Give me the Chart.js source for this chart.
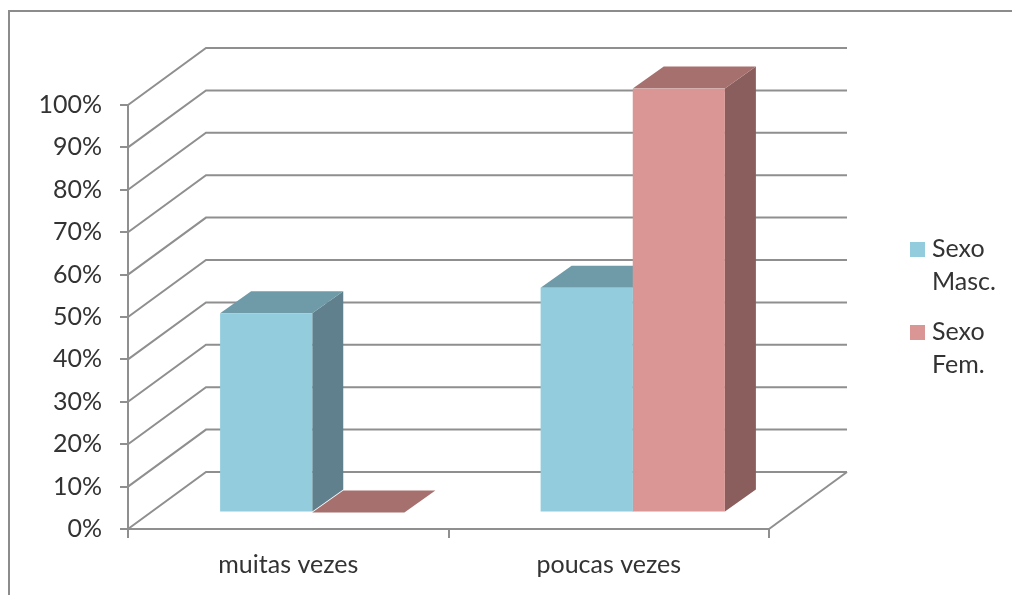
<!DOCTYPE html>
<html>
<head>
<meta charset="utf-8">
<script src="https://cdn.jsdelivr.net/npm/chart.js@4"></script>
<style>
  html, body { margin: 0; padding: 0; background: #fff; overflow: hidden; }
  #wrap { width: 1012px; height: 595px; }
</style>
</head>
<body>
<div id="wrap"><canvas id="chart"></canvas></div>
<script>
// DATA
const categories = ["muitas vezes", "poucas vezes"];
const sexoMasc = [47, 53];
const sexoFem = [0, 100];
const seriesNames = [["Sexo", "Masc."], ["Sexo", "Fem."]];
const yTickLabels = ["0%", "10%", "20%", "30%", "40%", "50%", "60%", "70%", "80%", "90%", "100%"];

// 3D LOOK
const wallDx = 78, wallDy = -57;   // back wall offset from the axes
const shiftX = 24, shiftY = -16.5; // bars stand inside the floor
const barDx = 31, barDy = -22;     // depth of a bar
const lineColor = "#8f8f8f";
const textColor = "#333333";
const fills = [
  { front: "#93cddd", top: "#6f9ba8", side: "#5f808c" },
  { front: "#d99694", top: "#a5706e", side: "#8a5e5c" },
];

function poly(c, pts, color) {
  c.fillStyle = color;
  c.beginPath();
  pts.forEach((p, i) => (i ? c.lineTo(p[0], p[1]) : c.moveTo(p[0], p[1])));
  c.closePath();
  c.fill();
}

// legend swatch, a plain 15px square
function swatch(color) {
  const s = document.createElement("canvas");
  s.width = 15;
  s.height = 15;
  const c = s.getContext("2d");
  c.fillStyle = color;
  c.fillRect(0, 0, 15, 15);
  return s;
}

const box3d = {
  id: "box3d",
  afterLayout(chart) {
    // legend sits to the right of the back wall
    const l = chart.legend;
    l.left = 898.5; l.right = 1012; l.top = 219.5; l.bottom = 400;
  },
  beforeDraw(chart) {
    const c = chart.ctx;
    c.save();
    c.strokeStyle = "#8c8c8c";
    c.lineWidth = 2;
    c.strokeRect(9, 11, 1200, 800);
    c.restore();
  },
  beforeDatasetsDraw(chart) {
    const c = chart.ctx, y = chart.scales.y;
    const a = chart.chartArea;
    c.save();
    c.strokeStyle = lineColor;
    c.lineWidth = 2;
    y.ticks.forEach((t) => {
      const py = y.getPixelForValue(t.value);
      c.beginPath();
      c.moveTo(a.left, py);
      c.lineTo(a.left + wallDx, py + wallDy);
      c.lineTo(a.right + wallDx, py + wallDy);
      c.stroke();
    });
    // floor right edge
    c.beginPath();
    c.moveTo(a.right, a.bottom);
    c.lineTo(a.right + wallDx, a.bottom + wallDy);
    c.stroke();
    c.restore();

    c.save();
    c.translate(shiftX, shiftY);
    [0, 1].forEach((i) => {
      chart.getDatasetMeta(i).data.forEach((bar) => {
        const { x, y: top, base, width } = bar.getProps(["x", "y", "base", "width"]);
        const l = x - width / 2, r = x + width / 2;
        if (base - top > 0.5) {
          poly(c, [[r, top], [r + barDx, top + barDy], [r + barDx, base + barDy], [r, base]], fills[i].side);
        }
        poly(c, [[l, top], [r, top], [r + barDx, top + barDy], [l + barDx, top + barDy]], fills[i].top);
      });
    });
    // restored in afterDatasetsDraw so the fronts get the same shift
  },
  afterDatasetsDraw(chart) {
    chart.ctx.restore();
  },
};

new Chart(document.getElementById("chart"), {
  type: "bar",
  data: {
    labels: categories,
    datasets: [
      { label: seriesNames[0], data: sexoMasc, backgroundColor: fills[0].front },
      { label: seriesNames[1], data: sexoFem, backgroundColor: fills[1].front },
    ],
  },
  options: {
    responsive: true,
    maintainAspectRatio: false,
    animation: false,
    layout: { padding: { top: 105, right: 243, left: 0, bottom: 0 } },
    datasets: { bar: { categoryPercentage: 0.575, barPercentage: 1 } },
    plugins: {
      tooltip: { enabled: false },
      legend: {
        position: "chartArea",
        align: "start",
        labels: {
          usePointStyle: true,
          pointStyleWidth: 4,
          boxWidth: 15,
          boxHeight: 15,
          padding: 17,
          color: textColor,
          font: { family: "Lato", size: 25, lineHeight: 1.32 },
          generateLabels: (chart) =>
            chart.data.datasets.map((d, i) => ({
              text: d.label,
              pointStyle: swatch(d.backgroundColor),
              lineWidth: 0,
              datasetIndex: i,
              fontColor: textColor,
            })),
        },
      },
    },
    scales: {
      x: {
        afterFit: (s) => { s.height = 66; },
        border: { color: lineColor, width: 2 },
        grid: { drawOnChartArea: false, color: lineColor, lineWidth: 2, tickLength: 9 },
        ticks: { color: textColor, padding: 12, maxRotation: 0, font: { family: "Lato", size: 25 } },
      },
      y: {
        min: 0,
        max: 100,
        afterFit: (s) => { s.width = 128; },
        border: { color: lineColor, width: 2 },
        grid: { drawOnChartArea: false, color: lineColor, lineWidth: 2, tickLength: 8 },
        ticks: {
          stepSize: 10,
          color: textColor,
          padding: 18,
          font: { family: "Lato", size: 25 },
          callback: (v, i) => yTickLabels[i],
        },
      },
    },
  },
  plugins: [box3d],
});
</script>
</body>
</html>
